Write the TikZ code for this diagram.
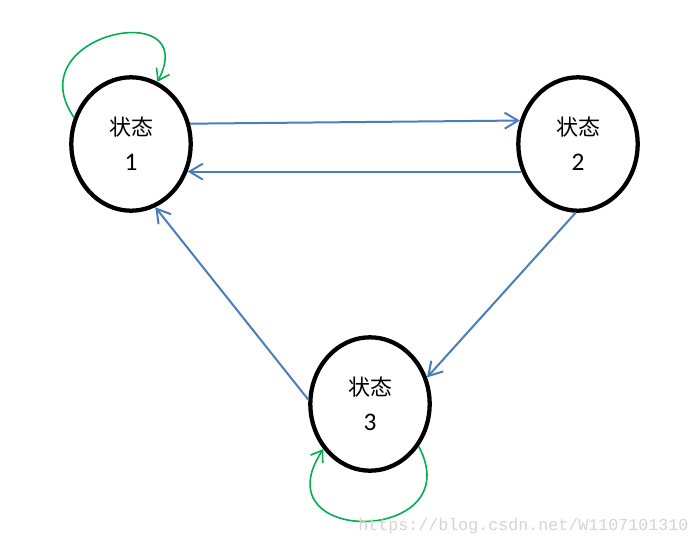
\documentclass[tikz,border=0pt]{standalone}
\usepackage{fontspec}
\setmainfont{Carlito}
\newfontfamily\cjkfont{Noto Sans CJK SC}
\newfontfamily\wmfont{Liberation Mono}
\usetikzlibrary{shapes.geometric,arrows.meta}
\definecolor{flowblue}{RGB}{74,126,187}
\definecolor{loopgreen}{RGB}{0,176,80}
\begin{document}
\begin{tikzpicture}[x=0.75pt,y=-0.75pt,
  state/.style={ellipse,draw=black,line width=3.2pt,minimum width=89.5pt,minimum height=100pt,
    inner sep=0pt,align=center,font=\fontsize{19}{26}\selectfont},
  flow/.style={draw=flowblue,line width=1.5pt,-{Straight Barb[length=10pt,width=12pt]}},
  selfloop/.style={draw=loopgreen,line width=1.2pt,-{Straight Barb[length=8pt,width=11pt]}},
  watermark/.style={font=\wmfont\fontsize{12.5}{14}\selectfont,text=black!17,anchor=base west,inner sep=0pt}]
\useasboundingbox[fill=white] (0,0) rectangle (699,546);
\node[state] (s1) at (131,144) {{\cjkfont\fontsize{16.5}{26}\selectfont 状态}\\1};
\node[state] (s2) at (578,144) {{\cjkfont\fontsize{16.5}{26}\selectfont 状态}\\2};
\node[state] (s3) at (370,404) {{\cjkfont\fontsize{16.5}{26}\selectfont 状态}\\3};
\draw[flow] (s1.19) -- (s2.158);
\draw[flow] (s2.206) -- (s1.334);
\draw[flow] (s2.268) -- (s3.25);
\draw[flow] (s3.176) -- (s1.291);
\draw[selfloop] (s1.155) .. controls +(-58,-84) and +(45,-86) .. (s1.67);
\draw[selfloop] (s3.319) .. controls +(52,98) and +(-65,98) .. (s3.224);
\node[watermark] (wm) at (358,530) {https://blog.csdn.net/W1107101310};
\end{tikzpicture}
\end{document}
